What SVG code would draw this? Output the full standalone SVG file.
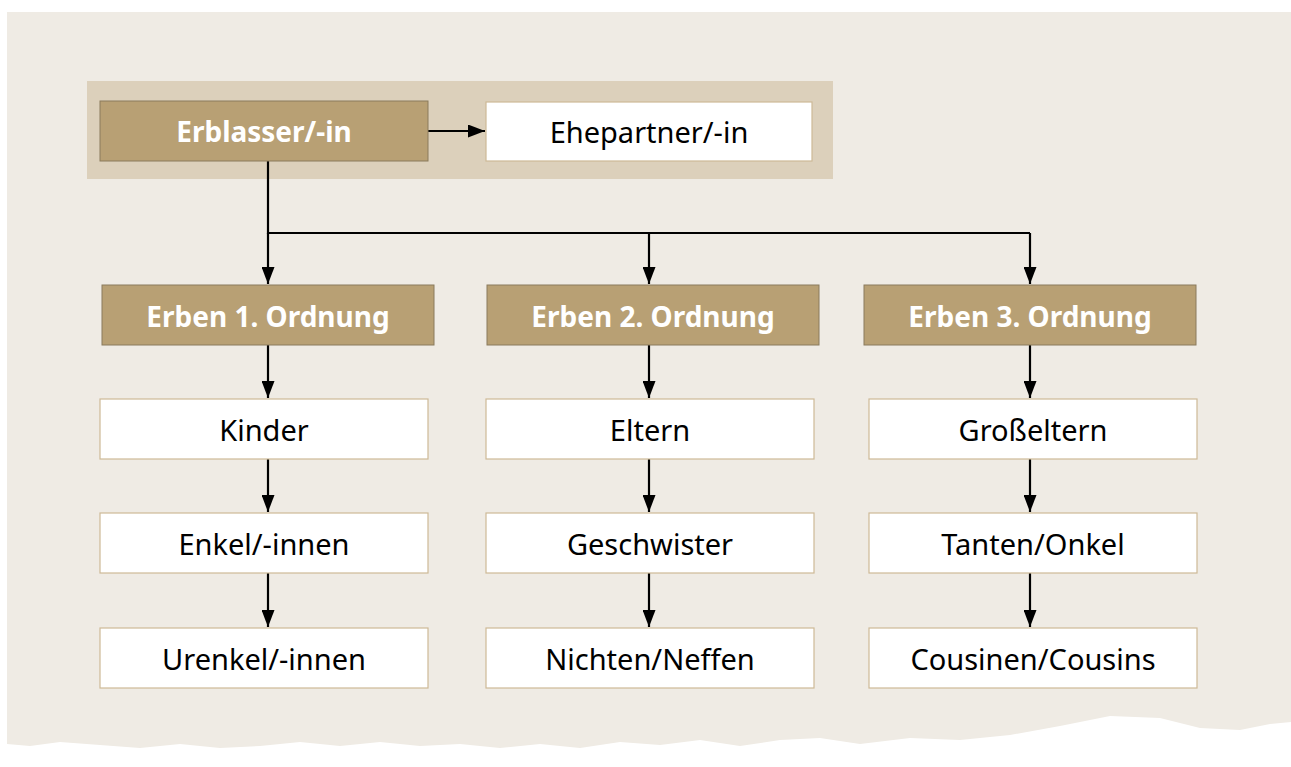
<svg xmlns="http://www.w3.org/2000/svg" width="1291" height="767" viewBox="0 0 1291 767">
<defs>
<marker id="ah" viewBox="0 0 17 13" refX="17" refY="6.5" markerWidth="17" markerHeight="13" markerUnits="userSpaceOnUse" orient="auto">
<path d="M0,0 L17,6.5 L0,13 Z" fill="#000"/>
</marker>
<style>
.bg{fill:#EFEBE4}
.band{fill:#DCD0BB}
.dark{fill:#B8A074;stroke:#8A7B5C;stroke-width:1}
.light{fill:#FFFFFF;stroke:#CDB997;stroke-width:1.2}
.tw{font-family:"Noto Sans","Open Sans",sans-serif;font-weight:bold;font-size:28px;fill:#FFFFFF;text-anchor:middle}
.tb{font-family:"Noto Sans","Open Sans",sans-serif;font-size:29px;fill:#000;text-anchor:middle}
.c{fill:none;stroke:#000;stroke-width:2.2}
</style>
</defs>
<rect width="1291" height="767" fill="#FFFFFF"/>
<path class="bg" d="M7,12 H1291 V722 L1270,724 L1240,730 L1200,728 L1160,718 L1110,716 L1060,726 L1010,735 L960,740 L910,738 L860,744 L820,738 L780,740 L740,746 L700,740 L660,745 L620,742 L580,748 L540,744 L500,748 L460,744 L420,746 L380,742 L340,746 L300,742 L260,746 L220,748 L180,744 L140,748 L100,745 L60,742 L30,746 L7,744 Z"/>
<rect class="band" x="87" y="81" width="746" height="98"/>
<g id="connectors">
<line class="c" x1="428" y1="131" x2="485" y2="131" marker-end="url(#ah)"/>
<polyline class="c" points="268,161 268,233 1030,233"/>
<line class="c" x1="268" y1="233" x2="268" y2="284" marker-end="url(#ah)"/>
<line class="c" x1="649" y1="233" x2="649" y2="284" marker-end="url(#ah)"/>
<line class="c" x1="1030" y1="233" x2="1030" y2="284" marker-end="url(#ah)"/>
<line class="c" x1="268" y1="345" x2="268" y2="398" marker-end="url(#ah)"/>
<line class="c" x1="649" y1="345" x2="649" y2="398" marker-end="url(#ah)"/>
<line class="c" x1="1030" y1="345" x2="1030" y2="398" marker-end="url(#ah)"/>
<line class="c" x1="268" y1="459" x2="268" y2="512" marker-end="url(#ah)"/>
<line class="c" x1="649" y1="459" x2="649" y2="512" marker-end="url(#ah)"/>
<line class="c" x1="1030" y1="459" x2="1030" y2="512" marker-end="url(#ah)"/>
<line class="c" x1="268" y1="573" x2="268" y2="627" marker-end="url(#ah)"/>
<line class="c" x1="649" y1="573" x2="649" y2="627" marker-end="url(#ah)"/>
<line class="c" x1="1030" y1="573" x2="1030" y2="627" marker-end="url(#ah)"/>
</g>
<g id="erblasser"><rect class="dark" x="100" y="101" width="328" height="60"/><text class="tw" x="264" y="142">Erblasser/-in</text></g>
<g id="ehepartner"><rect class="light" x="486" y="102" width="326" height="59"/><text class="tb" x="649" y="143">Ehepartner/-in</text></g>
<g id="erben1"><rect class="dark" x="102" y="285" width="332" height="60"/><text class="tw" x="268" y="327">Erben 1. Ordnung</text></g>
<g id="erben2"><rect class="dark" x="487" y="285" width="332" height="60"/><text class="tw" x="653" y="327">Erben 2. Ordnung</text></g>
<g id="erben3"><rect class="dark" x="864" y="285" width="332" height="60"/><text class="tw" x="1030" y="327">Erben 3. Ordnung</text></g>
<g id="kinder"><rect class="light" x="100" y="399" width="328" height="60"/><text class="tb" x="264" y="441">Kinder</text></g>
<g id="eltern"><rect class="light" x="486" y="399" width="328" height="60"/><text class="tb" x="650" y="441">Eltern</text></g>
<g id="grosseltern"><rect class="light" x="869" y="399" width="328" height="60"/><text class="tb" x="1033" y="441">Großeltern</text></g>
<g id="enkel"><rect class="light" x="100" y="513" width="328" height="60"/><text class="tb" x="264" y="555">Enkel/-innen</text></g>
<g id="geschwister"><rect class="light" x="486" y="513" width="328" height="60"/><text class="tb" x="650" y="555">Geschwister</text></g>
<g id="tanten"><rect class="light" x="869" y="513" width="328" height="60"/><text class="tb" x="1033" y="555">Tanten/Onkel</text></g>
<g id="urenkel"><rect class="light" x="100" y="628" width="328" height="60"/><text class="tb" x="264" y="670">Urenkel/-innen</text></g>
<g id="nichten"><rect class="light" x="486" y="628" width="328" height="60"/><text class="tb" x="650" y="670">Nichten/Neffen</text></g>
<g id="cousins"><rect class="light" x="869" y="628" width="328" height="60"/><text class="tb" x="1033" y="670">Cousinen/Cousins</text></g>
</svg>
